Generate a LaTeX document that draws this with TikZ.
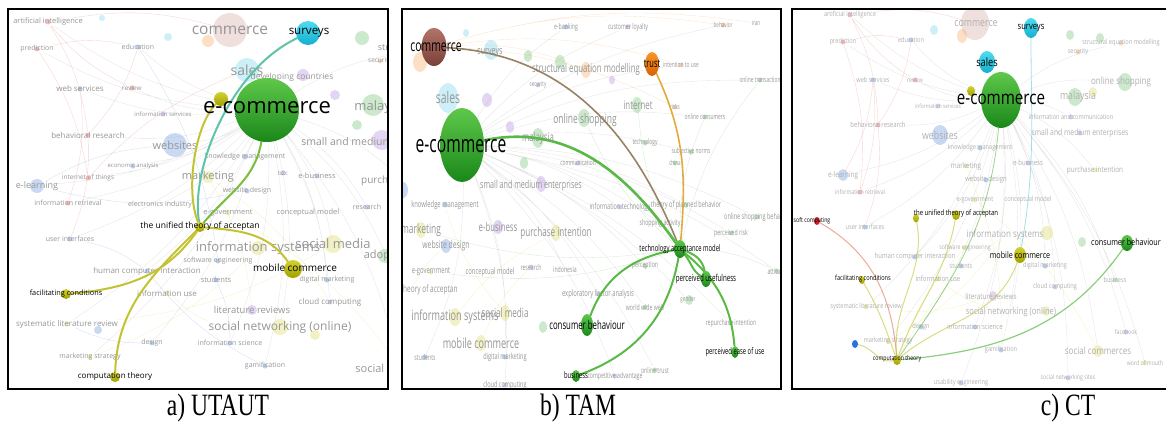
\documentclass[tikz,border=0pt]{standalone}
\usepackage{fontspec}
\setmainfont{Liberation Serif}
\newfontfamily\osans{Open Sans}
\newfontfamily\osansb[FakeStretch=0.65]{Open Sans}
\newfontfamily\osansc[FakeStretch=0.8]{Open Sans}
\newfontfamily\capfont[FakeStretch=0.76]{Liberation Serif}
\usepackage{tikz}
\usetikzlibrary{shapes.geometric}
\definecolor{ecg1}{RGB}{95, 200, 75}
\definecolor{ecg2}{RGB}{25, 135, 25}
\definecolor{cya1}{RGB}{80, 220, 240}
\definecolor{cya2}{RGB}{20, 175, 205}
\definecolor{yel1}{RGB}{210, 210, 50}
\definecolor{yel2}{RGB}{160, 160, 0}
\definecolor{brn1}{RGB}{180, 115, 105}
\definecolor{brn2}{RGB}{120, 65, 55}
\definecolor{org1}{RGB}{250, 150, 40}
\definecolor{org2}{RGB}{215, 95, 0}
\definecolor{redn}{RGB}{205, 35, 45}
\definecolor{blun}{RGB}{40, 115, 225}
\definecolor{lgreen}{RGB}{90, 185, 70}
\definecolor{lyel}{RGB}{195, 195, 50}
\definecolor{lcyan}{RGB}{70, 195, 200}
\definecolor{lbrown}{RGB}{150, 130, 100}
\definecolor{lorange}{RGB}{225, 170, 60}
\definecolor{fred}{RGB}{235, 120, 120}
\definecolor{fblue}{RGB}{120, 160, 225}
\definecolor{fpurple}{RGB}{185, 150, 225}
\definecolor{fgreen}{RGB}{130, 200, 130}
\definecolor{fyellow}{RGB}{220, 220, 110}
\definecolor{fcyan}{RGB}{130, 215, 235}
\definecolor{forange}{RGB}{250, 175, 110}
\definecolor{fbrown}{RGB}{215, 175, 170}
\definecolor{fadetxt}{RGB}{150, 150, 150}
\definecolor{fadetxtc}{RGB}{175, 175, 175}
\pgfdeclarelayer{background}
\pgfdeclarelayer{edges}
\pgfdeclarelayer{front}
\pgfsetlayers{background,main,edges,front}
\newcommand{\clipA}{\clip (8,9) rectangle (388,389);}
\newcommand{\clipB}{\clip (402,9) rectangle (781,389);}
\newcommand{\clipC}{\clip (792,9) rectangle (1170,389);}
\tikzset{
  panel/.style={draw=black, line width=1.6pt},
  hub/.style 2 args={ellipse, inner sep=0pt, minimum width=#1, minimum height=#2},
  greenball/.style={top color=ecg1, bottom color=ecg2},
  cyanball/.style={top color=cya1, bottom color=cya2},
  yelball/.style={top color=yel1, bottom color=yel2},
  brnball/.style={top color=brn1, bottom color=brn2},
  orgball/.style={top color=org1, bottom color=org2},
  kwa/.style={font=\osans\fontsize{#1}{#1}\selectfont, text=black, inner sep=0pt},
  kwb/.style={font=\osansb\fontsize{#1}{#1}\selectfont, text=black, inner sep=0pt},
  kwc/.style={font=\osansc\fontsize{#1}{#1}\selectfont, text=black, inner sep=0pt},
  fda/.style={font=\osans\fontsize{#1}{#1}\selectfont, text=fadetxt, inner sep=0pt},
  fdb/.style={font=\osansb\fontsize{#1}{#1}\selectfont, text=fadetxt, inner sep=0pt},
  fdc/.style={font=\osansc\fontsize{#1}{#1}\selectfont, text=fadetxtc, inner sep=0pt},
  kdot/.style={path picture={\fill[#1, opacity=.5] (path picture bounding box.center) circle (2.5pt);}},
  fcirc/.style n args={3}{ellipse, inner sep=0pt, minimum width=#2, minimum height=#3, fill=#1, fill opacity=.4},
  web/.style={draw=black!30, line width=.35pt, opacity=.35, every to/.style={bend left=12}},
  lnk/.style={line width=2pt, line cap=round},
  capt/.style={font=\capfont\fontsize{31}{31}\selectfont, inner sep=0pt}
}

\begin{document}
\begin{tikzpicture}[x=1pt, y=-1pt]
    \useasboundingbox (0,0) rectangle (1166,425);

    % ---------------- a) UTAUT ----------------
    \begin{scope}
    \clipA
    % faded clusters
    \node[fcirc={fbrown}{34pt}{34pt}] (a-c1) at (230,30) {};
    \node[fcirc={forange}{12pt}{12pt}] (a-c2) at (208,41) {};
    \node[fcirc={fcyan}{8pt}{8pt}] (a-c3) at (168,37) {};
    \node[fcirc={fcyan}{6pt}{6pt}] (a-c4) at (102,18) {};
    \node[fcirc={fcyan}{24pt}{24pt}] (a-c5) at (247,70) {};
    \node[fcirc={fpurple}{12pt}{12pt}] (a-c6) at (303,75) {};
    \node[fcirc={fgreen}{14pt}{14pt}] (a-c7) at (362,38) {};
    \node[fcirc={fgreen}{22pt}{22pt}] (a-c8) at (373,105) {};
    \node[fcirc={fpurple}{10pt}{10pt}] (a-c9) at (335,95) {};
    \node[fcirc={fgreen}{10pt}{10pt}] (a-c10) at (357,125) {};
    \node[fcirc={fblue}{24pt}{24pt}] (a-c11) at (175,145) {};
    \node[fcirc={fpurple}{20pt}{20pt}] (a-c12) at (382,140) {};
    \node[fcirc={fblue}{14pt}{14pt}] (a-c13) at (37,186) {};
    \node[fcirc={fyellow}{12pt}{12pt}] (a-c14) at (208,177) {};
    \node[fcirc={fyellow}{14pt}{14pt}] (a-c15) at (258,248) {};
    \node[fcirc={fyellow}{18pt}{18pt}] (a-c16) at (333,244) {};
    \node[fcirc={fgreen}{14pt}{14pt}] (a-c17) at (385,256) {};
    \node[fcirc={fyellow}{16pt}{16pt}] (a-c18) at (280,327) {};
    \node[fcirc={fyellow}{10pt}{10pt}] (a-c19) at (315,335) {};
    \node[fcirc={fpurple}{10pt}{10pt}] (a-c20) at (252,310) {};
    \node[fcirc={fblue}{8pt}{8pt}] (a-c21) at (98,330) {};
    % faded keywords
    \node[fda=7.5, kdot=fred] (a-ai) at (48,22) {artificial intelligence};
    \node[fda=7, kdot=fred] (a-pred) at (37,49) {prediction};
    \node[fda=7, kdot=fblue] (a-edu) at (138,47) {education};
    \node[fda=15.5] (a-com) at (230,30) {commerce};
    \node[fda=14] (a-sal) at (247,70) {sales};
    \node[fda=8.5] (a-dev) at (292,77) {developing countries};
    \node[fda=9] (a-str) at (440,48) {structural equation modelling};
    \node[fda=6.5, kdot=forange] (a-sec) at (380,61) {security};
    \node[fda=8, kdot=fblue] (a-wsv) at (80,89) {web services};
    \node[fda=6.5, kdot=fred] (a-rev) at (132,88) {review};
    \node[fda=6, kdot=fpurple] (a-isv) at (163,114) {information services};
    \node[fda=13] (a-mal) at (381,107) {malaysia};
    \node[fda=8, kdot=fred] (a-beh) at (88,135) {behavioral research};
    \node[fda=11] (a-web) at (175,145) {websites};
    \node[fda=10.5] (a-sme) at (376,143) {small and medium enterprises};
    \node[fda=7, kdot=fblue] (a-km) at (245,157) {knowledge management};
    \node[fda=6, kdot=fblue] (a-eco) at (133,166) {economic analysis};
    \node[fda=6.5, kdot=fred] (a-iot) at (88,178) {internet of things};
    \node[fda=11] (a-mkt) at (208,177) {marketing};
    \node[fda=9] (a-el) at (37,186) {e-learning};
    \node[fda=7, kdot=fblue] (a-wd) at (247,191) {website design};
    \node[fda=6, kdot=fpurple] (a-b2c) at (283,173) {b2c};
    \node[fda=7.5, kdot=fpurple] (a-eb) at (317,176) {e-business};
    \node[fda=10] (a-pi) at (405,181) {purchase intention};
    \node[fda=7, kdot=fred] (a-ir) at (68,203) {information retrieval};
    \node[fda=7] (a-ei) at (160,205) {electronics industry};
    \node[fda=7.5, kdot=fyellow] (a-eg) at (228,213) {e-government};
    \node[fda=7.5] (a-cm) at (308,213) {conceptual model};
    \node[fda=7, kdot=fpurple] (a-res) at (367,207) {research};
    \node[fda=7, kdot=fblue] (a-ui) at (70,239) {user interfaces};
    \node[fda=13] (a-is) at (258,248) {information systems};
    \node[fda=13] (a-sm) at (333,244) {social media};
    \node[fda=11] (a-ad) at (387,256) {adoption};
    \node[fda=8, kdot=fblue] (a-hci) at (147,271) {human computer interaction};
    \node[fda=7, kdot=fblue] (a-se) at (218,261) {software engineering};
    \node[fda=7.5, kdot=fblue] (a-st) at (216,280) {students};
    \node[fda=7, kdot=fblue] (a-dm) at (327,280) {digital marketing};
    \node[fda=8, kdot=fyellow] (a-iu) at (167,293) {information use};
    \node[fda=8, kdot=fpurple] (a-cc) at (330,302) {cloud computing};
    \node[fda=9.5] (a-lr) at (252,310) {literature reviews};
    \node[fda=8, kdot=fyellow] (a-slr) at (67,324) {systematic literature review};
    \node[fda=12] (a-sn) at (280,327) {social networking (online)};
    \node[fda=7, kdot=fblue] (a-des) at (152,343) {design};
    \node[fda=7, kdot=fblue] (a-isc) at (230,343) {information science};
    \node[fda=7, kdot=fyellow] (a-ms) at (90,357) {marketing strategy};
    \node[fda=7, kdot=fblue] (a-gam) at (265,366) {gamification};
    \node[fda=11] (a-sco) at (401,368) {social commerces};
    \end{scope}

    \begin{pgfonlayer}{front}
    \begin{scope}
    \clipA
    \node[hub={64pt}{64pt}, greenball] (a-ec) at (267,110) {};
    \node[hub={24pt}{24pt}, cyanball] (a-sv) at (308,33) {};
    \node[hub={14pt}{14pt}, yelball] (a-y) at (221,99) {};
    \node[hub={10pt}{10pt}, yelball] (a-ut) at (200,227) {};
    \node[hub={18pt}{18pt}, yelball] (a-mc) at (293,269) {};
    \node[hub={10pt}{10pt}, yelball] (a-fc) at (66,294) {};
    \node[hub={10pt}{10pt}, yelball] (a-ct) at (115,377) {};
    \node[kwa=22] (a-ec-t) at (267,108) {e-commerce};
    \node[kwa=11.5] (a-sv-t) at (309,33) {surveys};
    \node[kwa=8.5] (a-ut-t) at (200,226) {the unified theory of acceptan};
    \node[kwa=10] (a-mc-t) at (295,268) {mobile commerce};
    \node[kwa=7.3] (a-fc-t) at (66,294) {facilitating conditions};
    \node[kwa=8] (a-ct-t) at (115,376) {computation theory};
    \end{scope}
    \end{pgfonlayer}

    \begin{pgfonlayer}{edges}
    \begin{scope}
    \clipA
    \draw[lnk, draw=lgreen!70!lyel] (a-ec) to[out=-100, in=50] (a-ut);
    \draw[lnk, draw=lcyan!80!lyel] (a-sv) .. controls (230,70) and (190,170) .. (a-ut);
    \draw[lnk, draw=lyel] (a-y) .. controls (195,125) and (185,190) .. (a-ut);
    \draw[lnk, draw=lyel] (a-ut) to[out=-5, in=125] (a-mc);
    \draw[lnk, draw=lyel] (a-fc) to[out=5, in=235] (a-ut);
    \draw[lnk, draw=lyel] (a-ct) to[out=88, in=225] (a-ut);
    \end{scope}
    \end{pgfonlayer}

    \begin{pgfonlayer}{background}
    \begin{scope}
    \clipA
    \draw[web] (a-ec) to (a-ai) (a-ec) to (a-pred) (a-ec) to (a-edu) (a-ec) to (a-wsv)
        (a-ec) to (a-rev) (a-ec) to (a-beh) (a-ec) to (a-web) (a-ec) to (a-eco)
        (a-ec) to (a-iot) (a-ec) to (a-el) (a-ec) to (a-ir) (a-ec) to (a-ei)
        (a-ec) to (a-ui) (a-ec) to (a-hci) (a-ec) to (a-slr) (a-ec) to (a-ms)
        (a-ec) to (a-des) (a-ec) to (a-isc) (a-ec) to (a-gam) (a-ec) to (a-sn)
        (a-ec) to (a-cc) (a-ec) to (a-dm) (a-ec) to (a-sm) (a-ec) to (a-ad)
        (a-ec) to (a-res) (a-ec) to (a-pi) (a-ec) to (a-str) (a-ec) to (a-sco);
    \draw[web, draw=fred] (a-ai) to (a-beh) (a-pred) to (a-iot) (a-wsv) to (a-ir)
        (a-rev) to (a-ai) (a-beh) to (a-ui) (a-pred) to (a-edu) (a-ai) to (a-com)
        (a-edu) to (a-beh) (a-iot) to (a-sal);
    \draw[web, draw=fblue] (a-el) to (a-web) (a-ui) to (a-hci) (a-des) to (a-slr)
        (a-st) to (a-isc) (a-gam) to (a-hci) (a-wd) to (a-el) (a-edu) to (a-se);
    \draw[web, draw=fyellow] (a-is) to (a-ms) (a-sm) to (a-slr) (a-sn) to (a-iu)
        (a-mkt) to (a-lr) (a-eg) to (a-sco) (a-mkt) to (a-cc);
    \end{scope}
    \end{pgfonlayer}
    \draw[panel] (8,9) rectangle (388,389);

    % ---------------- b) TAM ----------------
    \begin{scope}
    \clipB
    \node[fcirc={fcyan}{20pt}{30pt}] (b-c1) at (448,98) {};
    \node[fcirc={fcyan}{14pt}{20pt}] (b-c2) at (491,50) {};
    \node[fcirc={forange}{14pt}{20pt}] (b-c3) at (420,62) {};
    \node[fcirc={fcyan}{6pt}{8pt}] (b-c4) at (466,33) {};
    \node[fcirc={fgreen}{10pt}{14pt}] (b-c5) at (560,62) {};
    \node[fcirc={fgreen}{8pt}{12pt}] (b-c6) at (528,56) {};
    \node[fcirc={forange}{10pt}{16pt}] (b-c7) at (586,70) {};
    \node[fcirc={fpurple}{6pt}{9pt}] (b-c8) at (612,80) {};
    \node[fcirc={fgreen}{10pt}{16pt}] (b-c9) at (637,105) {};
    \node[fcirc={fgreen}{12pt}{18pt}] (b-c10) at (584,118) {};
    \node[fcirc={fgreen}{12pt}{20pt}] (b-c11) at (538,138) {};
    \node[fcirc={fpurple}{10pt}{14pt}] (b-c12) at (487,100) {};
    \node[fcirc={fpurple}{8pt}{12pt}] (b-c13) at (510,127) {};
    \node[fcirc={fgreen}{8pt}{12pt}] (b-c14) at (524,163) {};
    \node[fcirc={fpurple}{10pt}{16pt}] (b-c15) at (541,184) {};
    \node[fcirc={fyellow}{10pt}{16pt}] (b-c16) at (556,233) {};
    \node[fcirc={fyellow}{10pt}{16pt}] (b-c17) at (421,230) {};
    \node[fcirc={fblue}{10pt}{14pt}] (b-c18) at (446,246) {};
    \node[fcirc={fpurple}{10pt}{14pt}] (b-c19) at (498,227) {};
    \node[fcirc={fyellow}{12pt}{18pt}] (b-c20) at (455,317) {};
    \node[fcirc={fyellow}{10pt}{16pt}] (b-c21) at (505,313) {};
    \node[fcirc={fyellow}{10pt}{16pt}] (b-c22) at (481,343) {};
    \node[fcirc={fgreen}{8pt}{12pt}] (b-c23) at (543,327) {};
    \node[fcirc={fblue}{10pt}{16pt}] (b-c24) at (403,190) {};
    \node[fcirc={fgreen}{8pt}{10pt}] (b-c25) at (689,300) {};
    \node[fdb=8, kdot=fblue] (b-ebk) at (566,27) {e-banking};
    \node[fdb=8, kdot=fpurple] (b-cl) at (628,27) {customer loyalty};
    \node[fdb=7, kdot=forange] (b-bhv) at (723,25) {behavior};
    \node[fdb=7] (b-iran) at (756,23) {iran};
    \node[fdb=11] (b-sv) at (490,53) {surveys};
    \node[fdb=12] (b-sem) at (586,69) {structural equation modelling};
    \node[fdb=7.5, kdot=forange] (b-itu) at (681,65) {intention to use};
    \node[fdb=7.5, kdot=fgreen] (b-ot) at (760,80) {online transaction};
    \node[fdb=7, kdot=fpurple] (b-sec) at (538,85) {security};
    \node[fdb=16] (b-sal) at (448,98) {sales};
    \node[fdb=12] (b-int) at (638,105) {internet};
    \node[fdb=7, kdot=forange] (b-risk) at (675,107) {risks};
    \node[fdb=7.5, kdot=fgreen] (b-oc) at (705,117) {online consumers};
    \node[fdb=13] (b-os) at (585,120) {online shopping};
    \node[fdb=12] (b-mal) at (538,138) {malaysia};
    \node[fdb=7.5, kdot=fgreen] (b-tec) at (645,143) {technology};
    \node[fdb=7.5, kdot=fgreen] (b-sn) at (691,152) {subjective norms};
    \node[fdb=7, kdot=fgreen] (b-chn) at (675,163) {china};
    \node[fdb=7.5, kdot=fpurple] (b-com) at (578,163) {communication};
    \node[fdb=11] (b-sme) at (531,186) {small and medium enterprises};
    \node[fdb=9, kdot=fblue] (b-km) at (445,205) {knowledge management};
    \node[fdb=8.5, kdot=fpurple] (b-it) at (620,207) {information technology};
    \node[fdb=8.5, kdot=fgreen] (b-tpb) at (686,205) {theory of planned behavior};
    \node[fdb=8.5, kdot=fgreen] (b-osb) at (757,217) {online shopping behavior};
    \node[fdb=13] (b-mkt) at (421,230) {marketing};
    \node[fdb=12] (b-eb) at (498,227) {e-business};
    \node[fdb=12.5] (b-pi) at (556,233) {purchase intention};
    \node[fdb=8, kdot=fgreen] (b-sa) at (660,223) {shopping activity};
    \node[fdb=8, kdot=fgreen] (b-pr) at (731,233) {perceived risk};
    \node[fdb=10.5] (b-wd) at (446,246) {website design};
    \node[fdb=9, kdot=fyellow] (b-eg) at (431,272) {e-government};
    \node[fdb=9] (b-cm) at (490,272) {conceptual model};
    \node[fdb=8, kdot=fpurple] (b-res) at (531,267) {research};
    \node[fdb=8] (b-ind) at (565,269) {indonesia};
    \node[fdb=8, kdot=fgreen] (b-per) at (645,266) {perception};
    \node[fdb=8, kdot=fgreen] (b-att) at (777,271) {attitude};
    \node[fdb=10] (b-uta) at (412,290) {the unified theory of acceptan};
    \node[fdb=9, kdot=fpurple] (b-efa) at (598,294) {exploratory factor analysis};
    \node[fdb=7] (b-gen) at (688,300) {gender};
    \node[fdb=8, kdot=fgreen] (b-www) at (645,307) {world wide web};
    \node[fdb=14] (b-is) at (455,317) {information systems};
    \node[fdb=12.5] (b-sm) at (505,313) {social media};
    \node[fdb=8, kdot=fgreen] (b-ri) at (731,323) {repurchase intention};
    \node[fdb=14] (b-mc) at (481,343) {mobile commerce};
    \node[fdb=8, kdot=fblue] (b-stu) at (425,357) {students};
    \node[fdb=8.5, kdot=fblue] (b-dm) at (505,357) {digital marketing};
    \node[fdb=8, kdot=fgreen] (b-otr) at (655,370) {online trust};
    \node[fdb=8, kdot=fpurple] (b-ca) at (615,376) {competitive advantage};
    \node[fdb=8.5, kdot=fpurple] (b-cc) at (505,385) {cloud computing};
    \end{scope}

    \begin{pgfonlayer}{front}
    \begin{scope}
    \clipB
    \node[hub={25pt}{38pt}, brnball] (b-cm0) at (434,47) {};
    \node[hub={44pt}{74pt}, greenball] (b-ec) at (462,145) {};
    \node[hub={14pt}{24pt}, orgball] (b-tr) at (652,64) {};
    \node[hub={12pt}{18pt}, greenball] (b-tam) at (680,249) {};
    \node[hub={10pt}{16pt}, greenball] (b-pu) at (706,279) {};
    \node[hub={12pt}{22pt}, greenball] (b-cb) at (587,325) {};
    \node[hub={7pt}{12pt}, greenball] (b-pe) at (735,352) {};
    \node[hub={8pt}{12pt}, greenball] (b-bs) at (576,376) {};
    \node[kwb=16] (b-cm0-t) at (436,47) {commerce};
    \node[kwb=24] (b-ec-t) at (461,146) {e-commerce};
    \node[kwb=11.5] (b-tr-t) at (652,64) {trust};
    \node[kwb=9] (b-tam-t) at (680,249) {technology acceptance model};
    \node[kwb=9.5] (b-pu-t) at (706,279) {perceived usefulness};
    \node[kwb=12] (b-cb-t) at (587,325) {consumer behaviour};
    \node[kwb=9] (b-pe-t) at (735,352) {perceived ease of use};
    \node[kwb=9] (b-bs-t) at (576,375) {business};
    \end{scope}
    \end{pgfonlayer}

    \begin{pgfonlayer}{edges}
    \begin{scope}
    \clipB
    \draw[lnk, line width=1.6pt, draw=lbrown] (b-cm0) to[out=-3, in=112] (b-tam);
    \draw[lnk, line width=2.6pt, draw=lgreen] (b-ec) to[out=12, in=125] (b-tam);
    \draw[lnk, line width=1.6pt, draw=lorange] (b-tr) to[out=-65, in=85] (b-tam);
    \draw[lnk, draw=lgreen] (b-tam) to[out=-50, in=150] (b-pu);
    \draw[lnk, draw=lgreen] (b-tam) to[out=-20, in=100] (b-pu);
    \draw[lnk, draw=lgreen] (b-tam) to[out=190, in=70] (b-cb);
    \draw[lnk, draw=lgreen] (b-tam) to[out=-100, in=20] (b-bs);
    \draw[lnk, draw=lgreen] (b-tam) to[out=-40, in=95] (b-pe);
    \end{scope}
    \end{pgfonlayer}

    \begin{pgfonlayer}{background}
    \begin{scope}
    \clipB
    \draw[web] (b-ec) to (b-ebk) (b-ec) to (b-cl) (b-ec) to (b-bhv) (b-ec) to (b-itu)
        (b-ec) to (b-ot) (b-ec) to (b-oc) (b-ec) to (b-sn) (b-ec) to (b-tpb)
        (b-ec) to (b-osb) (b-ec) to (b-pr) (b-ec) to (b-att) (b-ec) to (b-per)
        (b-ec) to (b-gen) (b-ec) to (b-www) (b-ec) to (b-ri) (b-ec) to (b-otr)
        (b-ec) to (b-ca) (b-ec) to (b-cc) (b-ec) to (b-dm) (b-ec) to (b-stu)
        (b-ec) to (b-ind) (b-ec) to (b-efa) (b-ec) to (b-sa) (b-ec) to (b-it);
    \draw[web, draw=forange] (b-cm0) to (b-bhv) (b-cm0) to (b-itu) (b-cm0) to (b-risk)
        (b-cm0) to (b-sem) (b-cm0) to (b-iran);
    \draw[web, draw=fgreen] (b-tam) to (b-ot) (b-tam) to (b-oc) (b-tam) to (b-att)
        (b-tam) to (b-int) (b-tam) to (b-os) (b-tam) to (b-mkt) (b-tam) to (b-eg);
    \draw[web, draw=fyellow] (b-is) to (b-pi) (b-mc) to (b-res) (b-sm) to (b-km)
        (b-uta) to (b-wd);
    \end{scope}
    \end{pgfonlayer}
    \draw[panel] (402,9) rectangle (781,389);

    % ---------------- c) CT ----------------
    \begin{scope}
    \clipC
    \node[fcirc={fbrown}{28pt}{34pt}] (c-c1) at (975,23) {};
    \node[fcirc={forange}{10pt}{14pt}] (c-c2) at (962,36) {};
    \node[fcirc={fcyan}{8pt}{10pt}] (c-c3) at (934,30) {};
    \node[fcirc={fgreen}{8pt}{10pt}] (c-c4) at (1070,35) {};
    \node[fcirc={fgreen}{8pt}{10pt}] (c-c5) at (1100,38) {};
    \node[fcirc={fgreen}{14pt}{18pt}] (c-c6) at (1075,97) {};
    \node[fcirc={fgreen}{14pt}{18pt}] (c-c7) at (1125,82) {};
    \node[fcirc={fyellow}{8pt}{10pt}] (c-c8) at (1093,92) {};
    \node[fcirc={fblue}{16pt}{20pt}] (c-c9) at (940,135) {};
    \node[fcirc={fblue}{10pt}{12pt}] (c-c10) at (843,175) {};
    \node[fcirc={fyellow}{12pt}{14pt}] (c-c11) at (1047,233) {};
    \node[fcirc={fyellow}{10pt}{12pt}] (c-c12) at (1098,351) {};
    \node[fcirc={fpurple}{8pt}{10pt}] (c-c13) at (993,296) {};
    \node[fcirc={fgreen}{8pt}{10pt}] (c-c14) at (1082,242) {};
    \node[fcirc={fyellow}{8pt}{10pt}] (c-c15) at (1046,311) {};
    \node[fdc=7, kdot=fred] (c-ai) at (850,15) {artificial intelligence};
    \node[fdc=11] (c-com) at (976,24) {commerce};
    \node[fdc=7, kdot=forange] (c-sem) at (1121,43) {structural equation modelling};
    \node[fdc=7, kdot=fblue] (c-edu) at (911,40) {education};
    \node[fdc=7, kdot=fred] (c-pred) at (843,42) {prediction};
    \node[fdc=7, kdot=forange] (c-sec) at (1078,52) {security};
    \node[fdc=7, kdot=fblue] (c-wsv) at (873,80) {web services};
    \node[fdc=6.5, kdot=fred] (c-rev) at (915,80) {review};
    \node[fdc=10] (c-os) at (1121,82) {online shopping};
    \node[fdc=11] (c-mal) at (1078,97) {malaysia};
    \node[fdc=6, kdot=fpurple] (c-isv) at (938,106) {information services};
    \node[fdc=7, kdot=fpurple] (c-ic) at (1071,117) {information and communication};
    \node[fdc=7.5, kdot=fred] (c-beh) at (878,125) {behavioral research};
    \node[fdc=11] (c-web) at (940,135) {websites};
    \node[fdc=8.5, kdot=fpurple] (c-sme) at (1080,133) {small and medium enterprises};
    \node[fdc=7, kdot=fblue] (c-km) at (980,148) {knowledge management};
    \node[fdc=8] (c-el) at (843,175) {e-learning};
    \node[fdc=8, kdot=fyellow] (c-mkt) at (966,166) {marketing};
    \node[fdc=7.5, kdot=fpurple] (c-eb) at (1028,163) {e-business};
    \node[fdc=8, kdot=fyellow] (c-pi) at (1095,170) {purchase intention};
    \node[fdc=7.5, kdot=fblue] (c-wd) at (986,180) {website design};
    \node[fdc=6.5, kdot=fred] (c-ir) at (860,192) {information retrieval};
    \node[fdc=7, kdot=fyellow] (c-eg) at (975,200) {e-government};
    \node[fdc=7] (c-cm) at (1028,200) {conceptual model};
    \node[fdc=7, kdot=fblue] (c-ui) at (865,227) {user interfaces};
    \node[fdc=10] (c-is) at (1005,235) {information systems};
    \node[fdc=6.5, kdot=fyellow] (c-se) at (965,248) {software engineering};
    \node[fdc=7.5, kdot=fblue] (c-hci) at (915,257) {human computer interaction};
    \node[fdc=7, kdot=fblue] (c-stu) at (961,266) {students};
    \node[fdc=7, kdot=fblue] (c-dm) at (1045,266) {digital marketing};
    \node[fdc=7, kdot=fgreen] (c-bus) at (1115,280) {business};
    \node[fdc=7.5, kdot=fyellow] (c-iu) at (938,279) {information use};
    \node[fdc=7, kdot=fpurple] (c-cc) at (1055,287) {cloud computing};
    \node[fdc=8] (c-lr) at (991,296) {literature reviews};
    \node[fdc=7, kdot=fyellow] (c-slr) at (866,307) {systematic literature review};
    \node[fdc=9.5] (c-sn) at (1011,312) {social networking (online)};
    \node[fdc=7, kdot=fblue] (c-des) at (921,327) {design};
    \node[fdc=7.5, kdot=fblue] (c-isc) at (975,327) {information science};
    \node[fdc=6.5, kdot=fpurple] (c-fb) at (1126,332) {facebook};
    \node[fdc=7, kdot=fyellow] (c-ms) at (888,341) {marketing strategy};
    \node[fdc=7, kdot=fblue] (c-gam) at (1001,350) {gamification};
    \node[fdc=10] (c-sco) at (1098,351) {social commerces};
    \node[fdc=6.5, kdot=fyellow] (c-wom) at (1145,363) {word of mouth};
    \node[fdc=6.5, kdot=fpurple] (c-sns) at (1068,378) {social networking sites};
    \node[fdc=7, kdot=fblue] (c-ue) at (961,383) {usability engineering};
    \end{scope}

    \begin{pgfonlayer}{front}
    \begin{scope}
    \clipC
    \node[hub={40pt}{56pt}, greenball] (c-ec) at (1001,100) {};
    \node[hub={16pt}{22pt}, cyanball] (c-sl) at (987,62) {};
    \node[hub={14pt}{20pt}, cyanball] (c-sv) at (1031,28) {};
    \node[hub={8pt}{10pt}, yelball] (c-y) at (971,91) {};
    \node[hub={6pt}{9pt}, yelball] (c-ut1) at (916,218) {};
    \node[hub={8pt}{10pt}, yelball] (c-ut2) at (956,215) {};
    \node[hub={6pt}{8pt}, fill=redn] (c-sc) at (817,221) {};
    \node[hub={12pt}{16pt}, yelball] (c-mc) at (1020,255) {};
    \node[hub={12pt}{16pt}, greenball] (c-cb) at (1127,243) {};
    \node[hub={6pt}{8pt}, yelball] (c-fc) at (862,280) {};
    \node[hub={6pt}{8pt}, fill=blun] (c-bl) at (855,344) {};
    \node[hub={8pt}{10pt}, yelball] (c-ct) at (897,360) {};
    \node[kwc=19] (c-ec-t) at (1001,99) {e-commerce};
    \node[kwc=11.5] (c-sl-t) at (987,62) {sales};
    \node[kwc=9.5] (c-sv-t) at (1031,28) {surveys};
    \node[kwc=7.5] (c-ut-t) at (956,214) {the unified theory of acceptan};
    \node[kwc=6.5] (c-sc-t) at (812,221) {soft computing};
    \node[kwc=9] (c-mc-t) at (1020,255) {mobile commerce};
    \node[kwc=9] (c-cb-t) at (1126,242) {consumer behaviour};
    \node[kwc=7] (c-fc-t) at (863,279) {facilitating conditions};
    \node[kwc=6.5] (c-ct-t) at (897,359) {computation theory};
    \end{scope}
    \end{pgfonlayer}

    \begin{pgfonlayer}{edges}
    \begin{scope}
    \clipC
    \draw[lnk, line width=1pt, draw=fred!80!lyel, opacity=.7] (c-sc) to[out=-30, in=95] (c-ct);
    \draw[lnk, line width=1pt, draw=lyel, opacity=.6] (c-fc) to[out=-60, in=110] (c-ct);
    \draw[lnk, line width=1pt, draw=lyel, opacity=.6] (c-bl) to[out=-10, in=190] (c-ct);
    \draw[lnk, line width=1pt, draw=lyel, opacity=.6] (c-ut1) to[out=-80, in=95] (c-ct);
    \draw[lnk, line width=1pt, draw=lyel, opacity=.6] (c-ut2) to[out=-100, in=70] (c-ct);
    \draw[lnk, line width=1pt, draw=lyel, opacity=.6] (c-mc) to[out=-110, in=40] (c-ct);
    \draw[lnk, line width=1.2pt, draw=lgreen, opacity=.7] (c-ct) to[out=5, in=235] (c-cb);
    \draw[lnk, line width=.8pt, draw=lgreen, opacity=.6] (c-ct) to[out=55, in=-95] (c-ec);
    \draw[lnk, line width=.8pt, draw=lcyan, opacity=.5] (c-sv) to[out=-90, in=80] (c-mc);
    \end{scope}
    \end{pgfonlayer}

    \begin{pgfonlayer}{background}
    \begin{scope}
    \clipC
    \draw[web] (c-ec) to (c-ai) (c-ec) to (c-pred) (c-ec) to (c-edu) (c-ec) to (c-wsv)
        (c-ec) to (c-rev) (c-ec) to (c-beh) (c-ec) to (c-el) (c-ec) to (c-ir)
        (c-ec) to (c-ui) (c-ec) to (c-hci) (c-ec) to (c-slr) (c-ec) to (c-ms)
        (c-ec) to (c-des) (c-ec) to (c-isc) (c-ec) to (c-gam) (c-ec) to (c-sn)
        (c-ec) to (c-cc) (c-ec) to (c-dm) (c-ec) to (c-bus) (c-ec) to (c-fb)
        (c-ec) to (c-sco) (c-ec) to (c-wom) (c-ec) to (c-sns) (c-ec) to (c-ue)
        (c-ec) to (c-sem) (c-ec) to (c-os) (c-ec) to (c-pi) (c-ec) to (c-ic);
    \draw[web, draw=fred] (c-ai) to (c-beh) (c-pred) to (c-ir) (c-wsv) to (c-el)
        (c-rev) to (c-ai) (c-beh) to (c-ui) (c-pred) to (c-edu) (c-ai) to (c-com)
        (c-edu) to (c-beh) (c-wsv) to (c-ir);
    \draw[web, draw=fyellow] (c-is) to (c-ms) (c-lr) to (c-slr) (c-sn) to (c-iu)
        (c-mkt) to (c-gam) (c-eg) to (c-sco) (c-ct) to (c-is) (c-ct) to (c-se);
    \end{scope}
    \end{pgfonlayer}
    \draw[panel] (792,9) rectangle (1172,389);

    % captions
    \node[capt] (cap-a) at (218,408) {a) UTAUT};
    \node[capt] (cap-b) at (578,408) {b) TAM};
    \node[capt] (cap-c) at (1068,408) {c) CT};
\end{tikzpicture}
\end{document}
